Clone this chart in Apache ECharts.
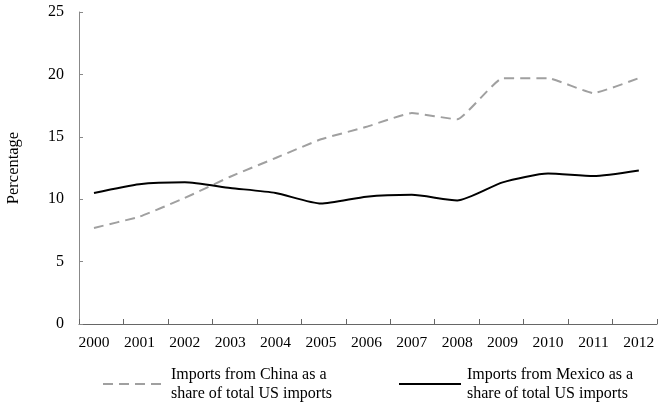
<!DOCTYPE html>
<html>
<head>
<meta charset="utf-8">
<script src="https://cdn.jsdelivr.net/npm/echarts@6/dist/echarts.min.js"></script>
<style>
html,body{margin:0;padding:0;background:#fff;}
#c{width:667px;height:403px;}
</style>
</head>
<body>
<div id="c"></div>
<script>
var years = ['2000','2001','2002','2003','2004','2005','2006','2007','2008','2009','2010','2011','2012'];
var chinaShare = [7.7, 8.6, 10.1, 11.8, 13.3, 14.8, 15.8, 16.9, 16.4, 19.7, 19.7, 18.5, 19.7];
var mexicoShare = [10.5, 11.2, 11.35, 10.9, 10.5, 9.65, 10.2, 10.35, 9.9, 11.35, 12.05, 11.85, 12.3];
var yTicks = [0, 5, 10, 15, 20, 25];
var chinaName = 'Imports from China as a\nshare of total US imports';
var mexicoName = 'Imports from Mexico as a\nshare of total US imports';

var font = 'Liberation Serif';
function pairs(arr){ return arr.map(function(v,i){ return [i, v]; }); }

var chart = echarts.init(document.getElementById('c'), null, {renderer:'canvas'});
chart.setOption({
  animation: false,
  backgroundColor: '#fff',
  textStyle: {fontFamily: font, color: '#000'},
  grid: {left: 79, right: 10, top: 12, bottom: 79, outerBoundsMode: 'none'},
  legend: [
    {
      left: 97, top: 360, itemWidth: 60, itemHeight: 14,
      data: [chinaName],
      itemStyle: {opacity: 0},
      textStyle: {fontFamily: font, fontSize: 16, color: '#000', lineHeight: 19, padding: [0,0,0,3]}
    },
    {
      left: 393, top: 360, itemWidth: 62, itemHeight: 14,
      data: [mexicoName],
      itemStyle: {opacity: 0},
      textStyle: {fontFamily: font, fontSize: 16, color: '#000', lineHeight: 19, padding: [0,0,0,1]}
    }
  ],
  xAxis: [
    {
      type: 'category', data: years, boundaryGap: true, position: 'bottom',
      axisLine: {show: true, onZero: false, lineStyle: {color: '#666', width: 1}},
      axisTick: {show: true, inside: true, length: 5, lineStyle: {color: '#666'}},
      axisLabel: {show: false},
      splitLine: {show: false}
    },
    {
      type: 'value', min: -0.33, max: 12.4, position: 'bottom',
      axisLine: {show: false, onZero: false}, axisTick: {show: false}, splitLine: {show: false},
      axisLabel: {
        show: true, margin: 11, fontFamily: font, fontSize: 15.5, color: '#000',
        customValues: years.map(function(y,i){ return i; }),
        formatter: function(v){ return years[Math.round(v)]; }
      }
    }
  ],
  yAxis: {
    type: 'value', min: 0, max: 25, interval: 5,
    name: 'Percentage', nameLocation: 'middle', nameGap: 57,
    nameTextStyle: {fontFamily: font, fontSize: 16.5, color: '#000'},
    axisLine: {show: true, onZero: false, lineStyle: {color: '#888', width: 1}},
    axisTick: {show: true, inside: true, length: 4, lineStyle: {color: '#888'}},
    axisLabel: {margin: 15, fontFamily: font, fontSize: 16, color: '#000',
      customValues: yTicks},
    splitLine: {show: false}
  },
  series: [
    {
      name: chinaName, type: 'line', xAxisIndex: 1, data: pairs(chinaShare),
      symbol: 'none', smooth: 0.12,
      lineStyle: {color: '#a0a0a0', width: 2, type: [10, 6]},
      itemStyle: {color: '#a0a0a0'}
    },
    {
      name: mexicoName, type: 'line', xAxisIndex: 1, data: pairs(mexicoShare),
      symbol: 'none', smooth: 0.2,
      lineStyle: {color: '#000', width: 2},
      itemStyle: {color: '#000'}
    }
  ]
});
</script>
</body>
</html>
